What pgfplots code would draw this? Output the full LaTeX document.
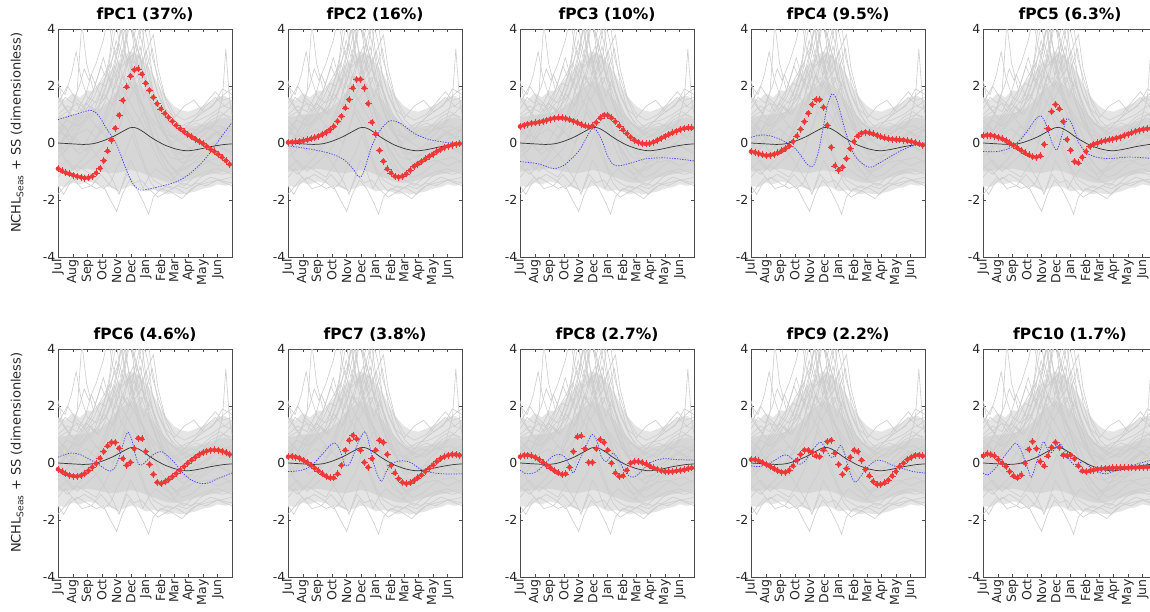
\documentclass[border=0pt]{standalone}
\usepackage{fontspec}
\setmainfont{DejaVu Sans}
\usepackage{pgfplots}
\pgfplotsset{compat=1.18}
\usepackage{pgfplotstable}

\definecolor{lg}{rgb}{0.8,0.8,0.8}
\definecolor{bandout}{rgb}{0.9,0.9,0.9}
\definecolor{bandin}{rgb}{0.84,0.84,0.84}
\definecolor{pcred}{RGB}{238,55,55}
\definecolor{pcblue}{RGB}{60,60,235}

\pgfplotstableread{
d r1 r2 r3 r4 r5 r6 r7 r8 r9 r10
0 -0.9 0.02 0.58 -0.3 0.25 -0.22 0.22 0.22 0.12 0.25
8 -0.98 0.03 0.62 -0.33 0.27 -0.3 0.23 0.27 0.12 0.32
16 -1.04 0.04 0.66 -0.37 0.27 -0.38 0.21 0.28 0.08 0.3
24 -1.08 0.06 0.69 -0.41 0.24 -0.43 0.17 0.25 0.02 0.25
32 -1.13 0.08 0.71 -0.44 0.2 -0.46 0.1 0.2 -0.05 0.12
40 -1.17 0.11 0.73 -0.43 0.15 -0.47 0.02 0.12 -0.12 0.0
48 -1.2 0.15 0.76 -0.4 0.08 -0.44 -0.08 0.02 -0.2 -0.12
56 -1.23 0.19 0.8 -0.35 0.0 -0.37 -0.18 -0.08 -0.27 -0.3
64 -1.22 0.24 0.84 -0.28 -0.08 -0.27 -0.28 -0.17 -0.32 -0.45
72 -1.17 0.3 0.87 -0.2 -0.17 -0.15 -0.38 -0.27 -0.33 -0.52
80 -1.05 0.38 0.88 -0.1 -0.26 -0.02 -0.46 -0.35 -0.25 -0.42
88 -0.88 0.47 0.88 0.05 -0.35 0.17 -0.52 -0.4 -0.1 0.0
96 -0.62 0.58 0.86 0.25 -0.42 0.4 -0.52 -0.38 0.1 0.48
104 -0.28 0.76 0.82 0.48 -0.48 0.6 -0.38 -0.15 0.3 0.75
112 0.1 0.94 0.77 0.75 -0.5 0.72 -0.08 0.4 0.45 0.5
120 0.52 1.23 0.72 1.05 -0.45 0.72 0.45 0.92 0.45 0.05
128 0.98 1.52 0.66 1.35 -0.05 0.52 0.8 0.95 0.38 -0.1
136 1.5 1.93 0.6 1.52 0.5 0.15 0.97 0.5 0.25 0.25
144 1.97 2.23 0.57 1.52 1.1 -0.08 0.85 0.02 0.22 0.55
152 2.35 2.23 0.6 1.25 1.35 0.02 0.45 0.02 0.45 0.72
160 2.57 1.93 0.72 0.62 1.2 0.5 0.02 0.5 0.75 0.55
168 2.6 1.38 0.88 -0.15 0.75 0.87 -0.15 0.82 0.8 0.28
176 2.42 0.73 0.98 -0.8 0.12 0.85 0.15 0.72 0.35 0.25
184 2.1 0.32 0.97 -0.95 -0.25 0.4 0.45 0.45 -0.05 0.28
192 1.85 -0.26 0.88 -0.85 -0.65 -0.05 0.8 0.0 -0.4 0.15
200 1.6 -0.64 0.75 -0.55 -0.7 -0.4 0.72 -0.35 -0.2 -0.1
208 1.38 -0.91 0.6 -0.2 -0.5 -0.68 0.3 -0.47 0.2 -0.28
216 1.2 -1.05 0.46 0.05 -0.3 -0.72 -0.08 -0.45 0.45 -0.3
224 1.04 -1.17 0.33 0.25 -0.12 -0.66 -0.35 -0.25 0.4 -0.28
232 0.9 -1.2 0.2 0.35 -0.04 -0.58 -0.55 0.0 0.1 -0.25
240 0.76 -1.17 0.1 0.38 0.0 -0.48 -0.68 0.05 -0.22 -0.22
248 0.62 -1.08 0.03 0.36 0.05 -0.37 -0.72 0.05 -0.45 -0.2
256 0.5 -0.96 -0.02 0.32 0.08 -0.25 -0.7 0.02 -0.65 -0.19
264 0.4 -0.82 -0.03 0.27 0.11 -0.13 -0.62 -0.03 -0.75 -0.18
272 0.3 -0.74 -0.02 0.22 0.14 -0.01 -0.52 -0.1 -0.75 -0.17
280 0.22 -0.65 0.03 0.18 0.17 0.1 -0.42 -0.17 -0.7 -0.17
288 0.14 -0.56 0.1 0.15 0.21 0.2 -0.3 -0.22 -0.6 -0.17
296 0.06 -0.47 0.17 0.13 0.26 0.29 -0.18 -0.27 -0.45 -0.17
304 -0.02 -0.39 0.24 0.12 0.31 0.36 -0.07 -0.3 -0.3 -0.17
312 -0.12 -0.3 0.3 0.11 0.36 0.42 0.05 -0.3 -0.12 -0.16
320 -0.22 -0.23 0.36 0.1 0.41 0.45 0.15 -0.3 0.0 -0.16
328 -0.3 -0.16 0.42 0.08 0.45 0.46 0.22 -0.28 0.12 -0.15
336 -0.4 -0.11 0.47 0.05 0.48 0.45 0.27 -0.26 0.2 -0.15
344 -0.5 -0.07 0.51 0.02 0.5 0.42 0.3 -0.24 0.27 -0.14
352 -0.62 -0.04 0.53 -0.03 0.5 0.37 0.3 -0.2 0.28 -0.14
360 -0.75 -0.02 0.53 -0.08 0.5 0.3 0.27 -0.17 0.25 -0.13
}\redtab

\newcommand{\spag}{%
\addplot[fill=bandout,draw=none] coordinates {(0,1.6)(15,1.5)(31,1.75)(46,1.6)(62,1.85)(77,1.8)(92,2.2)(108,2.5)(123,2.8)(138,3.1)(153,3.2)(168,3.1)(184,2.8)(200,2.4)(215,1.9)(230,1.55)(243,1.3)(258,1.15)(274,1.1)(289,1.2)(304,1.3)(320,1.45)(335,1.6)(350,1.65)(365,1.5)
(365,-1.45)(350,-1.5)(335,-1.45)(320,-1.55)(304,-1.6)(289,-1.7)(274,-1.75)(258,-1.8)(243,-1.75)(230,-1.8)(215,-1.7)(200,-1.65)(184,-1.7)(168,-1.55)(153,-1.5)(138,-1.6)(123,-1.65)(108,-1.55)(92,-1.5)(77,-1.4)(62,-1.35)(46,-1.45)(31,-1.4)(15,-1.55)(0,-1.5)};
\addplot[fill=bandin,draw=none] coordinates {(0,0.9)(15,0.95)(31,1.0)(46,1.0)(62,1.05)(77,1.12)(92,1.25)(108,1.5)(123,1.8)(138,2.0)(153,2.15)(168,2.05)(184,1.85)(200,1.45)(215,1.05)(230,0.8)(243,0.6)(258,0.55)(274,0.55)(289,0.6)(304,0.65)(320,0.75)(335,0.85)(350,0.9)(365,0.8)
(365,-1.0)(350,-1.02)(335,-1.05)(320,-1.1)(304,-1.15)(289,-1.22)(274,-1.3)(258,-1.38)(243,-1.4)(230,-1.38)(215,-1.3)(200,-1.2)(184,-1.1)(168,-1.0)(153,-0.95)(138,-1.0)(123,-1.05)(108,-1.05)(92,-1.0)(77,-0.95)(62,-0.9)(46,-0.92)(31,-0.95)(15,-0.98)(0,-1.0)};
\addplot[lg] coordinates {(0,0.5)(20,0.8)(40,0.6)(60,0.9)(80,1.2)(100,1.6)(115,2.4)(125,3.2)(135,4.3)(145,3.5)(155,2.8)(165,3.6)(175,4.2)(185,3.0)(200,1.8)(215,1.0)(235,0.4)(255,0.1)(280,0.3)(300,0.6)(320,0.9)(340,1.1)(365,0.8)};
\addplot[lg] coordinates {(0,1.2)(15,1.6)(30,1.4)(45,2.0)(55,2.6)(65,2.2)(80,2.8)(95,3.6)(105,4.4)(115,3.4)(130,2.6)(150,3.0)(160,2.2)(175,2.6)(190,2.0)(205,1.2)(220,0.6)(240,0.2)(260,0.0)(280,-0.2)(300,0.2)(320,0.5)(340,0.9)(365,1.3)};
\addplot[lg] coordinates {(0,2.2)(10,1.4)(25,1.0)(40,1.8)(50,4.2)(60,2.8)(75,1.8)(90,2.2)(110,2.8)(125,2.2)(140,3.2)(150,4.2)(160,3.8)(175,2.8)(190,3.4)(200,3.8)(210,2.6)(225,1.6)(245,1.0)(265,0.8)(290,1.0)(310,1.4)(330,1.8)(345,1.5)(365,1.6)};
\addplot[lg] coordinates {(0,-1.5)(12,-1.8)(25,-1.4)(40,-1.2)(60,-1.4)(80,-1.6)(95,-1.5)(110,-2.0)(123,-2.4)(135,-1.8)(150,-1.3)(165,-1.6)(180,-2.1)(190,-2.5)(200,-1.9)(215,-1.6)(235,-1.7)(260,-1.95)(280,-1.6)(300,-1.4)(320,-1.2)(340,-1.3)(365,-1.2)};
\addplot[lg] coordinates {(0,0.8)(20,0.4)(40,1.0)(60,1.4)(75,1.1)(90,1.8)(105,2.6)(118,3.8)(128,4.5)(140,3.2)(150,2.4)(160,2.9)(172,2.0)(185,2.6)(198,3.3)(210,2.1)(225,1.2)(245,0.5)(270,0.2)(300,0.4)(330,0.7)(345,1.6)(352,3.3)(360,1.5)(365,1.0)};
\addplot[lg] coordinates {(0,-0.5)(20,-0.2)(40,0.3)(60,0.5)(80,0.2)(100,0.8)(115,1.4)(130,2.0)(145,2.9)(158,3.4)(168,2.5)(180,1.6)(192,2.2)(205,1.4)(220,0.5)(240,-0.3)(260,-0.7)(280,-0.6)(300,-0.3)(325,0.0)(345,-0.2)(365,-0.4)};
\addplot[lg] coordinates {(0,0.0)(15,-0.6)(30,-0.9)(50,-0.6)(70,-0.2)(90,0.4)(105,1.2)(118,2.0)(128,2.8)(138,2.2)(148,3.0)(160,2.0)(172,1.2)(185,0.6)(200,0.2)(220,-0.4)(240,-0.9)(260,-1.2)(280,-1.1)(300,-0.8)(320,-0.6)(345,-0.5)(365,-0.7)};
\addplot[lg] coordinates {(0,1.6)(15,1.2)(35,0.8)(55,1.2)(70,0.9)(85,1.3)(100,1.9)(112,2.8)(122,3.6)(132,3.0)(142,3.7)(152,4.4)(165,3.2)(178,4.3)(188,3.6)(198,2.4)(212,1.6)(228,1.0)(248,0.6)(270,0.6)(290,0.9)(315,1.2)(335,1.5)(355,1.8)(365,1.9)};
\addplot[lg] coordinates {(0,-0.8)(20,-1.1)(40,-0.8)(60,-1.0)(80,-1.2)(95,-0.8)(110,-0.3)(125,0.4)(140,1.1)(155,0.6)(170,-0.2)(185,-0.9)(200,-1.3)(220,-1.5)(240,-1.6)(260,-1.4)(280,-1.5)(300,-1.2)(320,-1.0)(345,-1.1)(365,-1.0)};
\addplot[lg] coordinates {(0,0.3)(20,0.9)(35,1.5)(50,1.1)(70,1.6)(85,2.4)(95,3.0)(108,2.2)(120,1.6)(135,2.4)(148,2.0)(160,2.6)(172,3.4)(182,2.6)(195,1.4)(210,0.8)(230,0.2)(250,-0.3)(270,-0.5)(290,-0.3)(310,0.0)(335,0.4)(365,0.6)};
\addplot[lg] coordinates {(0,-1.2)(15,-0.9)(35,-1.3)(55,-1.1)(75,-1.3)(95,-1.6)(110,-1.4)(125,-0.8)(140,-0.4)(155,0.3)(165,-0.2)(180,-0.8)(195,-1.4)(210,-1.7)(230,-1.5)(250,-1.6)(270,-1.8)(290,-1.5)(310,-1.4)(335,-1.3)(365,-1.4)};
\addplot[lg] coordinates {(0,0.2)(15,0.6)(30,0.1)(45,0.5)(65,0.9)(85,0.5)(100,1.1)(112,1.6)(122,2.2)(132,1.4)(145,1.8)(158,2.3)(170,1.5)(185,1.0)(200,0.6)(215,0.0)(235,-0.5)(255,-0.6)(275,-0.4)(295,-0.5)(315,-0.2)(340,0.2)(365,0.1)};
\addplot[lg] coordinates {(0,-0.3)(25,0.0)(45,-0.4)(65,-0.1)(85,-0.5)(100,-0.9)(115,-1.3)(128,-1.8)(140,-1.2)(152,-0.6)(165,-1.0)(178,-1.6)(190,-1.2)(205,-0.9)(220,-1.1)(240,-1.3)(260,-0.9)(285,-0.7)(310,-0.6)(335,-0.8)(365,-0.6)};
\addplot[lg] coordinates {(0,1.0)(20,1.3)(40,1.1)(58,1.7)(70,2.4)(82,1.9)(95,1.5)(110,2.0)(125,2.6)(135,1.9)(148,1.5)(162,2.0)(175,2.3)(190,1.6)(205,0.9)(222,0.3)(240,0.0)(260,0.3)(280,0.5)(300,0.4)(320,0.8)(345,1.0)(365,0.9)};
\addplot[lg] coordinates {(0,-0.2)(20,0.3)(40,0.1)(60,-0.3)(80,0.2)(100,0.5)(118,0.9)(135,1.4)(150,1.0)(165,0.6)(180,1.1)(195,0.4)(210,-0.2)(230,-0.7)(250,-1.0)(270,-0.9)(290,-0.6)(310,-0.4)(335,-0.1)(365,-0.3)};
\addplot[lg] coordinates {(0,0.6)(18,0.2)(38,-0.3)(58,0.0)(78,0.6)(98,0.3)(115,0.0)(130,0.6)(145,1.6)(158,1.2)(172,0.8)(188,0.3)(205,-0.4)(222,-0.9)(240,-1.1)(262,-0.8)(285,-0.3)(308,0.1)(330,0.4)(350,0.2)(365,0.5)};
\addplot[lg] coordinates {(0,0.4)(20,0.2)(40,0.7)(60,1.1)(80,1.5)(95,2.0)(108,3.0)(118,4.5)(128,3.6)(138,4.4)(148,3.2)(160,2.4)(170,3.1)(182,2.2)(195,1.5)(210,0.7)(230,0.1)(250,-0.4)(275,-0.2)(300,0.0)(330,0.3)(365,0.2)};
\addplot[lg] coordinates {(0,-0.1)(25,0.5)(45,0.9)(65,1.3)(85,1.0)(100,1.5)(112,2.1)(125,2.9)(137,3.8)(147,4.5)(157,3.7)(167,4.1)(178,3.4)(190,2.3)(205,1.6)(220,1.0)(240,0.6)(260,0.4)(285,0.2)(310,0.5)(340,0.6)(365,0.4)};
\addplot[lg] coordinates {(0,1.4)(20,2.0)(35,1.6)(55,1.3)(75,1.9)(90,2.7)(100,2.3)(115,3.0)(128,3.5)(142,2.7)(156,3.1)(170,2.4)(185,3.2)(195,2.6)(208,1.8)(225,1.2)(245,0.9)(265,1.3)(285,1.5)(305,1.1)(325,1.3)(345,1.9)(365,1.7)};
\addplot[lg] coordinates {(0,-1.8)(15,-1.5)(30,-1.2)(50,-1.6)(70,-1.5)(90,-1.1)(110,-1.5)(130,-1.7)(145,-1.1)(160,-1.4)(175,-1.3)(190,-1.6)(210,-1.9)(230,-1.7)(250,-1.5)(270,-1.6)(290,-1.4)(310,-1.5)(335,-1.3)(365,-1.5)};
\addplot[lg] coordinates {(0,0.9)(20,1.1)(40,1.4)(60,1.2)(75,1.6)(88,2.1)(100,2.0)(113,2.5)(125,3.3)(133,4.2)(142,3.1)(152,2.6)(163,3.5)(173,3.0)(183,2.2)(198,1.9)(212,1.2)(230,0.7)(250,0.5)(270,0.7)(295,0.8)(320,1.0)(345,1.3)(365,1.2)};
\addplot[lg] coordinates {(0,-0.9)(20,-0.6)(40,-1.0)(60,-0.7)(80,-0.4)(95,-0.1)(110,0.6)(122,1.5)(135,2.4)(145,2.0)(155,2.6)(168,1.8)(180,1.2)(195,0.5)(210,-0.3)(225,-0.8)(245,-1.3)(265,-1.5)(285,-1.2)(310,-1.0)(335,-0.9)(365,-1.1)};
\addplot[lg] coordinates {(0,0.1)(15,-0.3)(35,0.4)(55,0.8)(70,1.3)(82,1.0)(95,1.8)(108,2.3)(120,1.9)(132,2.8)(142,3.6)(150,4.6)(160,3.3)(170,2.6)(180,3.9)(188,4.5)(198,3.0)(212,2.2)(228,1.4)(245,0.8)(265,0.5)(290,0.7)(320,0.5)(345,0.3)(365,0.5)};
\addplot[lg] coordinates {(0,2.0)(15,1.7)(28,2.4)(38,3.2)(48,2.3)(62,1.6)(80,1.4)(98,1.7)(115,1.3)(130,1.9)(145,2.3)(160,1.8)(175,1.4)(190,1.0)(208,0.6)(225,0.3)(245,0.2)(265,0.5)(290,0.9)(310,1.3)(330,1.6)(350,1.3)(365,1.5)};
\addplot[black!80, line width=0.7pt, smooth] coordinates {(0,0)(30,-0.03)(55,-0.05)(75,-0.02)(95,0.08)(115,0.22)(135,0.4)(150,0.53)(158,0.55)(168,0.5)(180,0.38)(195,0.2)(210,0.05)(225,-0.08)(245,-0.2)(262,-0.26)(275,-0.27)(295,-0.22)(320,-0.13)(345,-0.06)(365,-0.03)};
}

\pgfplotsset{
  pc/.style={
    scale only axis, width=174pt, height=228pt, anchor=south west,
    xmin=0, xmax=365, ymin=-4, ymax=4,
    xtick={0,31,62,92,123,153,184,215,243,274,304,335},
    xticklabels={Jul,Aug,Sep,Oct,Nov,Dec,Jan,Feb,Mar,Apr,May,Jun},
    ytick={-4,-2,0,2,4}, yticklabels={-4,-2,0,2,4},
    tick align=inside, major tick length=3pt,
    axis line style={black!70, line width=0.5pt},
    tick style={black!70, line width=0.5pt},
    xticklabel style={rotate=90, anchor=east, font=\fontsize{12.5}{13}\selectfont, text=black!85, inner sep=2pt},
    yticklabel style={font=\fontsize{12.5}{13}\selectfont, text=black!85, inner sep=2.5pt},
    title style={font=\bfseries\fontsize{15.5}{17}\selectfont, at={(axis description cs:0.5,1)}, anchor=base, yshift=4pt},
    ylabel style={at={(axis description cs:-0.235,0.545)}, anchor=center, font=\fontsize{13}{15}\selectfont, text=black!85},
    every axis plot/.append style={line width=0.6pt},
    clip=true,
  },
  bl/.style={color=pcblue, line width=0.7pt, dash pattern=on 1.3pt off 1.3pt, smooth, tension=0.5},
  rd/.style={only marks, mark=none, color=pcred,
    error bars/.cd, x dir=both, x fixed=7.3, y dir=both, y fixed=0.123,
    error mark=none, error bar style={color=pcred, line width=0.55pt, solid}},
}

\begin{document}
\begin{tikzpicture}
% Row 1
\begin{axis}[pc, at={(58pt,354pt)}, title={fPC1 (37\%)}, ylabel={NCHL\textsubscript{Seas} + SS (dimensionless)}]
\spag
\addplot[bl] coordinates {(0,0.82)(20,0.92)(40,1.02)(60,1.12)(70,1.14)(80,1.05)(90,0.85)(100,0.55)(110,0.3)(120,0.05)(130,-0.35)(140,-0.8)(150,-1.2)(160,-1.5)(172,-1.65)(180,-1.65)(200,-1.58)(225,-1.48)(250,-1.35)(271,-1.15)(285,-0.95)(300,-0.72)(321,-0.3)(342,0.2)(365,0.72)};
\addplot[rd] table[x=d,y=r1] {\redtab};
\end{axis}
\begin{axis}[pc, at={(288pt,354pt)}, title={fPC2 (16\%)}]
\spag
\addplot[bl] coordinates {(0,-0.1)(30,-0.17)(59,-0.25)(87,-0.36)(105,-0.47)(120,-0.62)(136,-0.9)(146,-1.15)(151,-1.2)(156,-1.12)(163,-0.8)(171,-0.35)(178,-0.02)(188,0.3)(198,0.55)(213,0.78)(227,0.75)(240,0.65)(255,0.45)(269,0.3)(297,0.12)(332,0.02)(365,-0.02)};
\addplot[rd] table[x=d,y=r2] {\redtab};
\end{axis}
\begin{axis}[pc, at={(520pt,354pt)}, title={fPC3 (10\%)}]
\spag
\addplot[bl] coordinates {(0,-0.65)(35,-0.72)(55,-0.82)(70,-0.9)(84,-0.85)(95,-0.75)(105,-0.6)(116,-0.42)(126,-0.22)(135,0.05)(143,0.3)(152,0.5)(160,0.45)(167,0.25)(174,0.0)(180,-0.3)(185,-0.5)(195,-0.75)(209,-0.8)(237,-0.68)(265,-0.55)(300,-0.52)(328,-0.55)(365,-0.63)};
\addplot[rd] table[x=d,y=r3] {\redtab};
\end{axis}
\begin{axis}[pc, at={(751pt,354pt)}, title={fPC4 (9.5\%)}]
\spag
\addplot[bl] coordinates {(0,0.2)(20,0.28)(40,0.25)(65,0.1)(90,-0.15)(105,-0.45)(118,-0.75)(130,-0.82)(140,-0.4)(151,0.5)(160,1.3)(170,1.72)(180,1.5)(195,0.6)(210,-0.2)(225,-0.6)(248,-0.85)(270,-0.7)(300,-0.4)(330,-0.15)(365,0.02)};
\addplot[rd] table[x=d,y=r4] {\redtab};
\end{axis}
\begin{axis}[pc, at={(983pt,354pt)}, title={fPC5 (6.3\%)}]
\spag
\addplot[bl] coordinates {(0,-0.3)(29,-0.3)(50,-0.22)(64,-0.1)(80,0.15)(92,0.4)(105,0.72)(113,0.88)(122,0.95)(131,0.7)(138,0.35)(145,0.0)(154,-0.25)(160,-0.05)(166,0.3)(176,0.85)(187,0.65)(201,0.0)(218,-0.35)(239,-0.5)(267,-0.55)(295,-0.5)(323,-0.5)(365,-0.56)};
\addplot[rd] table[x=d,y=r5] {\redtab};
\end{axis}
% Row 2
\begin{axis}[pc, at={(58pt,34pt)}, title={fPC6 (4.6\%)}, ylabel={NCHL\textsubscript{Seas} + SS (dimensionless)}]
\spag
\addplot[bl] coordinates {(0,0.2)(15,0.3)(28,0.35)(46,0.3)(67,0.12)(85,-0.05)(100,-0.22)(110,-0.28)(120,-0.15)(130,0.3)(140,0.85)(147,1.08)(155,0.8)(163,0.25)(170,-0.05)(178,-0.05)(190,0.15)(205,0.35)(218,0.4)(230,0.25)(245,0.0)(262,-0.35)(280,-0.6)(300,-0.72)(315,-0.7)(335,-0.55)(365,-0.35)};
\addplot[rd] table[x=d,y=r6] {\redtab};
\end{axis}
\begin{axis}[pc, at={(288pt,34pt)}, title={fPC7 (3.8\%)}]
\spag
\addplot[bl] coordinates {(0,-0.3)(20,-0.28)(38,-0.2)(55,0.0)(66,0.2)(78,0.42)(87,0.6)(98,0.7)(108,0.5)(115,0.15)(119,-0.05)(126,-0.1)(133,0.1)(140,0.4)(148,0.75)(154,0.95)(161,1.1)(166,0.95)(171,0.6)(178,0.1)(185,-0.3)(196,-0.65)(206,-0.3)(220,0.0)(241,0.08)(259,0.0)(276,-0.2)(297,-0.32)(325,-0.38)(365,-0.38)};
\addplot[rd] table[x=d,y=r7] {\redtab};
\end{axis}
\begin{axis}[pc, at={(520pt,34pt)}, title={fPC8 (2.7\%)}]
\spag
\addplot[bl] coordinates {(0,-0.25)(14,-0.38)(35,-0.3)(56,0.05)(70,0.25)(84,0.3)(95,0.2)(105,-0.15)(112,-0.35)(122,0.0)(136,0.5)(145,0.85)(152,1.0)(161,0.8)(171,0.2)(181,0.05)(188,0.2)(195,0.35)(206,0.15)(220,-0.3)(234,-0.5)(248,-0.4)(272,0.0)(300,0.15)(328,0.12)(365,0.1)};
\addplot[rd] table[x=d,y=r8] {\redtab};
\end{axis}
\begin{axis}[pc, at={(751pt,34pt)}, title={fPC9 (2.2\%)}]
\spag
\addplot[bl] coordinates {(0,-0.1)(20,-0.12)(45,0.05)(65,0.25)(75,0.28)(88,0.12)(100,-0.05)(112,0.05)(125,0.35)(140,0.68)(147,0.72)(155,0.55)(165,0.25)(172,0.2)(180,0.4)(188,0.62)(195,0.4)(205,-0.2)(215,-0.62)(222,-0.65)(235,-0.35)(250,-0.05)(265,0.1)(280,0.05)(300,-0.1)(320,-0.2)(340,-0.3)(365,-0.35)};
\addplot[rd] table[x=d,y=r9] {\redtab};
\end{axis}
\begin{axis}[pc, at={(983pt,34pt)}, title={fPC10 (1.7\%)}]
\spag
\addplot[bl] coordinates {(0,-0.35)(10,-0.42)(25,-0.2)(43,0.2)(57,0.5)(68,0.7)(78,0.5)(92,-0.1)(101,-0.5)(110,-0.1)(120,0.45)(127,0.75)(135,0.5)(142,0.35)(151,0.5)(159,0.72)(169,0.5)(180,0.15)(190,-0.05)(200,-0.02)(211,0.05)(225,-0.15)(239,-0.3)(257,-0.38)(274,-0.3)(302,-0.15)(330,0.0)(358,0.12)(365,0.13)};
\addplot[rd] table[x=d,y=r10] {\redtab};
\end{axis}
\pgfresetboundingbox
\path[use as bounding box] (0,0) rectangle (1150pt,611pt);
\end{tikzpicture}
\end{document}
